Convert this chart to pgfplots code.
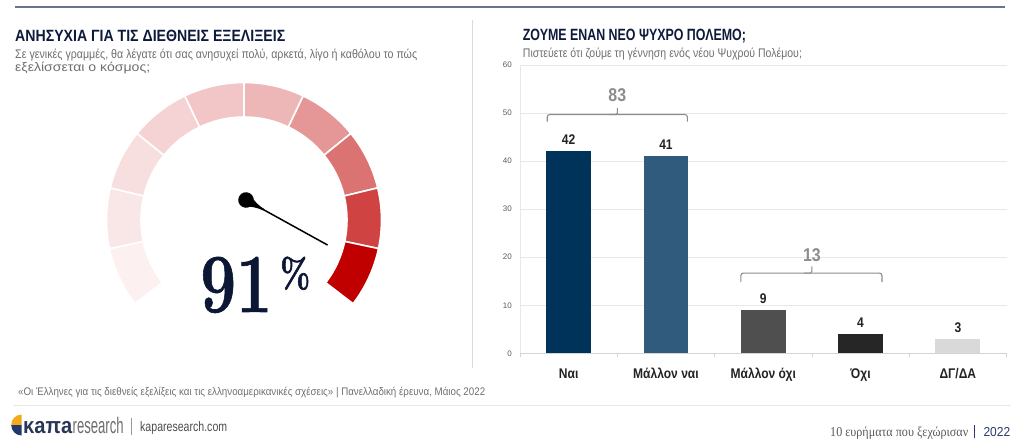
\documentclass[border=0pt]{standalone}
\usepackage{pgfplots}
\pgfplotsset{compat=1.18}
\usepackage{fontspec}
\usepackage{graphicx}
\newfontfamily\ls{Liberation Sans}
\newfontfamily\lsr{Liberation Serif}
\newfontfamily\nar[FakeStretch=0.86]{Liberation Sans}
\newcommand\fitw[2]{\resizebox{#1}{\height}{#2}}
\newcommand\fs[1]{\fontsize{#1}{#1}\selectfont}
\newcommand\strk[2]{\special{pdf:literal 2 Tr #1 w}#2\special{pdf:literal 0 Tr}}
\definecolor{navy}{HTML}{0D1A3B}
\definecolor{numnavy}{HTML}{0B1735}
\definecolor{subgray}{HTML}{6E6E6E}
\definecolor{topline}{HTML}{67748F}
\definecolor{sepgray}{HTML}{DADADA}
\definecolor{gridgray}{HTML}{E8E8E8}
\definecolor{axgray}{HTML}{D4D4D4}
\definecolor{tickgray}{HTML}{5A5A5A}
\definecolor{labdark}{HTML}{222222}
\definecolor{brgray}{HTML}{8C8C8C}
\definecolor{cNai}{HTML}{00335A}
\definecolor{cMNai}{HTML}{315B7D}
\definecolor{cMOxi}{HTML}{4F4F4F}
\definecolor{cOxi}{HTML}{262626}
\definecolor{cDG}{HTML}{D9D9D9}
\definecolor{g1}{HTML}{FCF0F1}
\definecolor{g2}{HTML}{F9E7E8}
\definecolor{g3}{HTML}{F7DEDF}
\definecolor{g4}{HTML}{F5D3D4}
\definecolor{g5}{HTML}{F2C6C7}
\definecolor{g6}{HTML}{EDB7B8}
\definecolor{g7}{HTML}{E59797}
\definecolor{g8}{HTML}{DA7372}
\definecolor{g9}{HTML}{CF4443}
\definecolor{g10}{HTML}{C00000}
\definecolor{logoy}{HTML}{F2AA1C}
\definecolor{logon}{HTML}{1F3A6B}
\definecolor{kapa}{HTML}{2A3656}
\definecolor{yearnavy}{HTML}{2B3869}
\begin{document}
\begin{tikzpicture}[x=1pt,y=1pt]
\useasboundingbox (0,0) rectangle (1024,444);
% top line
\draw[topline, line width=1.7pt] (15,437.3) -- (1005,437.3);
% separator
\draw[sepgray, line width=0.9pt] (472.7,76) -- (472.7,424);
% left title and subtitle
\node[anchor=base west, inner sep=0, text=navy] at (15,402) {\fitw{270pt}{\ls\bfseries\fs{16.3}ΑΝΗΣΥΧΙΑ ΓΙΑ ΤΙΣ ΔΙΕΘΝΕΙΣ ΕΞΕΛΙΞΕΙΣ}};
\node[anchor=base west, inner sep=0, text=subgray] at (15,385.7) {\fitw{402pt}{\ls\fs{12.5}Σε γενικές γραμμές, θα λέγατε ότι σας ανησυχεί πολύ, αρκετά, λίγο ή καθόλου το πώς}};
\node[anchor=base west, inner sep=0, text=subgray] at (15,372.5) {\fitw{135pt}{\ls\fs{12.5}εξελίσσεται ο κόσμος;}};
% right title and subtitle
\node[anchor=base west, inner sep=0, text=navy] at (522.7,403) {\fitw{223pt}{\ls\bfseries\fs{16.3}ΖΟΥΜΕ ΕΝΑΝ ΝΕΟ ΨΥΧΡΟ ΠΟΛΕΜΟ;}};
\node[anchor=base west, inner sep=0, text=subgray] at (522.7,386.3) {\fitw{279pt}{\ls\fs{12.5}Πιστεύετε ότι ζούμε τη γέννηση ενός νέου Ψυχρού Πολέμου;}};
% gauge
\begin{scope}[shift={(244,224)}]
\foreach \i/\c in {0/g1,1/g2,2/g3,3/g4,4/g5,5/g6,6/g7,7/g8,8/g9,9/g10}{
  \pgfmathsetmacro\a{217.5-25.5*\i}
  \pgfmathsetmacro\b{\a-25.5}
  \fill[\c, draw=white, line width=1.6pt] (\a:137.5) arc[start angle=\a, end angle=\b, radius=137.5] -- (\b:103) arc[start angle=\b, end angle=\a, radius=103] -- cycle;
}
\end{scope}
\begin{scope}[shift={(246,244)}, rotate=-28.9]
\fill[black!85] (0,0) circle (7.8);
\fill[black] (0,0) circle (7.3);
\fill[black] (0,6.5) .. controls (8,3.5) and (12,1.3) .. (20,0.9) -- (20,-0.9) .. controls (12,-1.3) and (8,-3.5) .. (0,-6.5) -- cycle;
\draw[black, line width=1.5pt] (0,0) -- (93.3,0);
\end{scope}
\node[anchor=base west, inner sep=0, text=numnavy, draw=none] at (200,132) {\color{numnavy}\fitw{72pt}{\rmfamily\bfseries\fs{84}\strk{0.7}{91}}};
\node[anchor=south west, inner sep=0, text=numnavy] at (280,154) {\color{numnavy}\fitw{30pt}{\rmfamily\bfseries\fs{41}\strk{0.7}{\%}}};
% bar chart
\begin{axis}[
  at={(520pt,90.7pt)}, anchor=south west, scale only axis,
  width=486.5pt, height=288.3pt,
  xmin=-0.5, xmax=4.5, ymin=0, ymax=60,
  ybar, bar width=44.8pt,
  xtick={0,1,2,3,4},
  xticklabels={Ναι, Μάλλον ναι, Μάλλον όχι, Όχι, ΔΓ/ΔΑ},
  minor xtick={-0.5,0.5,1.5,2.5,3.5,4.5},
  ytick={0,10,...,60},
  major tick length=0pt, minor tick length=4pt, tick align=outside,
  minor tick style={draw=axgray, line width=0.8pt},
  ymajorgrids, major grid style={draw=gridgray, line width=0.8pt},
  axis x line*=bottom, axis y line*=left,
  x axis line style={draw=axgray, line width=0.8pt, -},
  y axis line style={draw=gridgray, line width=0.8pt, -},
  xticklabel style={font=\nar\bfseries\fs{14}, text=labdark, anchor=base, yshift=-25pt},
  yticklabel style={font=\ls\fs{8}, text=tickgray, inner sep=0pt, xshift=-8pt},
  /pgf/number format/assume math mode=true,
  nodes near coords,
  every node near coord/.append style={font=\nar\bfseries\fs{14}, text=labdark, anchor=south, inner sep=0pt, yshift=6.5pt},
  clip=false,
]
\addplot[fill=cNai, draw=none, bar shift=0pt] coordinates {(0,42)};
\addplot[fill=cMNai, draw=none, bar shift=0pt] coordinates {(1,41)};
\addplot[fill=cMOxi, draw=none, bar shift=0pt] coordinates {(2,9)};
\addplot[fill=cOxi, draw=none, bar shift=0pt] coordinates {(3,4)};
\addplot[fill=cDG, draw=none, bar shift=0pt] coordinates {(4,3)};
% brackets
\draw[brgray, line width=1.1pt, rounded corners=2.5pt] (axis cs:-0.22,48.2) |- (axis cs:0.5,49.7) -| (axis cs:1.22,48.2);
\draw[brgray, line width=1.1pt, rounded corners=1.5pt] (axis cs:0.42,49.7) -| (axis cs:0.5,51.1);
\node[text=brgray, inner sep=0pt] at (axis cs:0.5,53.75) {\nar\bfseries\fs{18.5}83};
\draw[brgray, line width=1.1pt, rounded corners=2.5pt] (axis cs:1.77,14.8) |- (axis cs:2.5,16.7) -| (axis cs:3.22,14.8);
\draw[brgray, line width=1.1pt, rounded corners=1.5pt] (axis cs:2.42,16.7) -| (axis cs:2.5,18.1);
\node[text=brgray, inner sep=0pt] at (axis cs:2.5,20.5) {\nar\bfseries\fs{18.5}13};
\end{axis}
% footer
\node[anchor=base west, inner sep=0, text=subgray] at (18,48) {\fitw{467pt}{\ls\fs{11}«Οι Έλληνες για τις διεθνείς εξελίξεις και τις ελληνοαμερικανικές σχέσεις» | Πανελλαδική έρευνα, Μάιος 2022}};
\draw[gridgray, line width=1.5pt] (13,38.5) -- (1011,38.5);
\fill[logoy] (21.7,19) -- (11.2,19) arc[start angle=180, end angle=90, radius=10.5] -- cycle;
\fill[logon] (21.7,19) -- (21.7,8.5) arc[start angle=270, end angle=180, radius=10.5] -- cycle;
\node[anchor=base west, inner sep=0, text=kapa] at (23,10.7) {\fitw{49pt}{\ls\bfseries\fs{22.5}κaπa}};
\node[anchor=base west, inner sep=0, text=subgray] at (72.5,10.7) {\fitw{51pt}{\ls\fs{22.5}research}};
\draw[black!40, line width=0.6pt] (131.7,9) -- (131.7,26);
\node[anchor=base west, inner sep=0, text=black!70] at (140,12.3) {\fitw{87pt}{\ls\fs{13.7}kaparesearch.com}};
\node[anchor=base west, inner sep=0, text=black!65] at (830,8) {\fitw{138pt}{\lsr\fs{13.5}10 ευρήματα που ξεχώρισαν}};
\draw[yearnavy, line width=1pt] (974.5,6) -- (974.5,19.5);
\node[anchor=base west, inner sep=0, text=yearnavy] at (983.3,8) {\fitw{26.7pt}{\ls\fs{13}2022}};
\end{tikzpicture}
\end{document}
